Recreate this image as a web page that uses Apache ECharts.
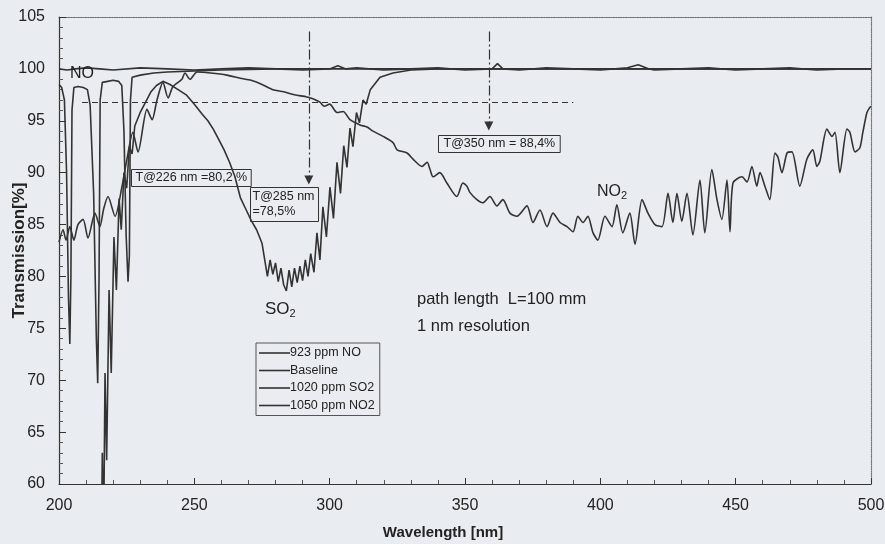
<!DOCTYPE html>
<html><head><meta charset="utf-8">
<script src="https://cdn.jsdelivr.net/npm/echarts@6/dist/echarts.min.js"></script>
<style>html,body{margin:0;padding:0;background:#e9ecf0;}#c{width:885px;height:544px;}</style>
</head><body><div id="c"></div>
<script>
// ---- data (wavelength nm, transmission %) ----
const baseX = [200,203,206,210,215,220,230,240,250,260,270,280,290,300,303,306,310,320,330,340,350,360,362,364,370,380,390,400,410,414,418,420,430,440,450,460,470,480,490,500];
const baseY = [100,99.9,100,100.1,100,99.9,100.1,100,99.9,100,100.1,100,99.9,100,100.3,100,100.1,99.9,100,100.1,99.9,100,100.5,100,99.9,100.1,100,99.9,100.1,100.4,100,99.9,100,100.1,99.9,100,100.1,99.9,100,100];

const noX = [200,201,202,202.8,203.5,204,204.4,204.8,205.5,207,209,210.5,211.5,212.8,213.8,214.3,214.8,215.2,216,218,220,222,223.2,224,224.8,225.5,226,226.4,227,230,235,240,250,260,280,300,350,400,450,500];
const noY = [98.5,98.2,97,90,78,73.5,80,96,98.2,98.3,98.2,98,96.5,88,74,69.7,80,97,98.7,98.8,98.9,98.8,98.4,94,84,79.5,82,97,99.2,99.4,99.6,99.7,99.8,99.9,100,100,100,100,100,100];

const so2X = [200,215.5,216,216.5,217,217.6,218.5,219.3,220.3,221.2,222.2,223,224,225,226,227,228,230,232,234,236,238.4,241,244,247,250,253,255,257,259,261,263,265,267,269,271,273,275,277,278,279,280,281,282,283,284,285,286,287,288,289,290,291,292,293,294.2,295.3,296.4,297.5,298.8,300.1,301.4,302.7,304,305.2,306.4,307.5,308.6,309.9,311,312.3,313.5,315,318.6,323.4,330,340,400,500];
const so2Y = [50,50,63,55,70.7,62.3,78.7,70.7,83.8,78.7,87.5,84.5,90,88.5,92.5,91.8,94.5,95.8,96.8,97.8,98.4,98.8,98.5,98.0,97.5,96.6,95.6,95.0,94.2,93.2,92.2,91.0,89.6,87.6,86.5,85.4,84.5,83.2,80.0,81.6,80.2,81.3,79.5,80.8,79.2,78.6,80.6,79.0,80.8,79.4,81.0,79.6,81.6,80.0,82.2,80.4,84.2,81.6,86.7,83.8,88.6,85.6,91.0,88.0,92.6,90.5,94.3,92.5,95.8,94.8,97.0,96.6,98.0,99.2,99.6,99.9,100,100,100];

const no2X = [200,201.5,202.6,204,205.5,207,208.9,210.7,213.3,215.1,216.5,218.1,220.7,223.3,225.1,227.3,229.2,232.5,234.4,236.2,238.4,240.3,242.1,245.4,246.5,248.4,251,256,262,267,271,275,279,283,287,291.6,294,296.4,298,300,302.7,305,307.5,311.2,313.8,316,319.7,323.4,324.9,328.6,330.8,334.1,336,337.1,338.2,340.7,343.3,347,349.2,350.7,351.8,354.4,356.6,359.2,361.8,364,366.6,369.2,372.9,375.1,377.7,380.3,382.5,385.1,387.7,389.9,391.7,393.6,395.4,397.3,399.1,401.7,404.3,406.1,408.3,410.9,412.8,415.4,417.6,420.2,422.8,425,426.8,428.3,430.1,432,434.2,436.8,438.6,441.2,443.1,444.9,446.8,447.9,449,452.3,454.2,456,457.8,459,460.8,462.6,464.5,465.6,467.1,469,470.8,473.7,476.3,478.5,480,481.1,483.7,485.6,486.7,488.5,491.1,492.2,494.1,495.9,497,498.5,499.6,500];
const no2Y = [83.3,84.5,83.5,84.8,83.5,85,85.5,83.7,86.1,84.8,86.5,87.7,85.8,88.7,91.3,93.9,92,96.1,95.1,97,98.7,97.2,98.3,99,99.6,99,99.7,99.6,99.4,99.1,98.9,98.5,98.0,97.8,97.5,97.3,97.1,96.8,96.4,96.6,95.8,95.9,95.1,94.6,94.4,94.0,93.5,92.9,92.2,91.9,91.3,90.6,91.0,90.3,89.6,90.0,89.0,87.7,89.0,88.7,88.1,87.4,87.1,87.7,86.8,87.4,86.1,85.8,86.8,85.2,86.4,84.8,86.1,85.2,84.8,84.3,85.8,85.2,85.8,84.2,83.5,85.8,84.8,86.9,84.2,86.1,83.1,87.4,86.1,85,84.8,88,85.2,88,85.3,88,84,89.3,84.2,90.3,87.4,85.5,89.3,84.3,89,89.6,89.1,90.6,88.7,90,88.7,87.4,91.9,91.5,90,91.9,92,88.7,91.3,92.2,90.6,91.1,94.2,93.5,93.9,90,94.2,93.9,92,92.4,93.9,95.8,96.3,96.4];

const seriesNames = ['923 ppm NO','Baseline','1020 ppm SO2','1050 ppm NO2'];
const xTicks = {min:200, max:500, step:50};
const yTicks = {min:60, max:105, step:5};

// annotation positions (data coords)
const refLevel = 96.8;
const refLineX = [208.5, 390];
const arrowX = [292.3, 358.8];
const arrowTopY = 103.6;
const arrowTipY = [89.3, 94.5];

const zip = (xs, ys) => xs.map((x, i) => [x, ys[i]]);
const LC = '#333';

const chart = echarts.init(document.getElementById('c'));
const lineSeries = (name, xs, ys, smooth) => ({
  name, type:'line', data: zip(xs, ys), symbol:'none', smooth: smooth || false,
  lineStyle:{color:LC, width:1.6}, itemStyle:{color:LC}, clip:true, z:3
});

chart.setOption({
  backgroundColor:'#e9ecf0',
  animation:false,
  grid:{left:59, right:14, top:17, bottom:60, containLabel:false, outerBoundsMode:'none'},
  legend:{
    data: seriesNames, orient:'vertical', left:256, top:343,
    icon:'rect', itemWidth:31, itemHeight:1.6, itemGap:3.5,
    padding:[3,5,3,3], borderColor:'#555', borderWidth:1,
    textStyle:{fontFamily:'Arial, Liberation Sans', fontSize:12.5, color:'#222', lineHeight:14, padding:[0,0,0,-5]},
    itemStyle:{color:LC}
  },
  xAxis:[{
    type:'value', min:xTicks.min, max:xTicks.max, interval:xTicks.step,
    name:'Wavelength [nm]', nameLocation:'middle', nameGap:41, nameMoveOverlap:false,
    nameTextStyle:{fontFamily:'Arial, Liberation Sans', fontSize:15, fontWeight:'bold', color:'#222', padding:[0,44,0,0]},
    axisLine:{lineStyle:{color:'#333', width:1.2}},
    axisTick:{inside:true, length:6, lineStyle:{color:'#333'}},
    minorTick:{show:true, splitNumber:5, length:4, lineStyle:{color:'#555'}},
    axisLabel:{fontFamily:'Arial, Liberation Sans', fontSize:16, color:'#222', margin:14},
    splitLine:{show:false}
  },{
    type:'value', position:'top', min:xTicks.min, max:xTicks.max,
    axisLine:{show:true, lineStyle:{color:'#666', type:'dotted', width:1.2}},
    axisTick:{show:false}, axisLabel:{show:false}, splitLine:{show:false}
  }],
  yAxis:[{
    type:'value', min:yTicks.min, max:yTicks.max, interval:yTicks.step,
    name:'Transmission[%]', nameLocation:'middle', nameGap:31, nameRotate:90, nameMoveOverlap:false,
    nameTextStyle:{fontFamily:'Arial, Liberation Sans', fontSize:17, fontWeight:'bold', color:'#222'},
    axisLine:{show:true, lineStyle:{color:'#333', width:1.2}},
    axisTick:{inside:true, length:7, lineStyle:{color:'#333'}},
    minorTick:{show:true, splitNumber:5, length:4, lineStyle:{color:'#555'}},
    axisLabel:{fontFamily:'Arial, Liberation Sans', fontSize:16, color:'#222', margin:14},
    splitLine:{show:false}
  },{
    type:'value', position:'right', min:yTicks.min, max:yTicks.max,
    axisLine:{show:true, lineStyle:{color:'#777', type:'dotted', width:1.2}},
    axisTick:{show:false}, axisLabel:{show:false}, splitLine:{show:false}
  }],
  series:[
    lineSeries(seriesNames[0], noX, noY),
    lineSeries(seriesNames[1], baseX, baseY),
    lineSeries(seriesNames[2], so2X, so2Y),
    lineSeries(seriesNames[3], no2X, no2Y, 0.25),
    {
      name:'annotations', type:'line', data:[], symbol:'none',
      markLine:{
        silent:true, animation:false, label:{show:false},
        data:[
          [{coord:[refLineX[0], refLevel], symbol:'none', lineStyle:{type:[6,4], color:'#333', width:1.2}},
           {coord:[refLineX[1], refLevel], symbol:'none'}],
          [{coord:[arrowX[0], arrowTopY], symbol:'none', lineStyle:{type:[10,3,2,3], color:'#333', width:1.2}},
           {coord:[arrowX[0], arrowTipY[0]], symbol:'triangle', symbolSize:[9,9], symbolRotate:180}],
          [{coord:[arrowX[1], arrowTopY], symbol:'none', lineStyle:{type:[10,3,2,3], color:'#333', width:1.2}},
           {coord:[arrowX[1], arrowTipY[1]], symbol:'triangle', symbolSize:[9,9], symbolRotate:180}]
        ]
      }
    }
  ],
  graphic:[
    {type:'text', left:70, top:66, z:10, style:{text:'NO', font:'16px Arial, Liberation Sans', fill:'#222'}},
    {type:'text', left:265, top:301, z:10, style:{text:'SO{s|2}', font:'17px Arial, Liberation Sans', fill:'#222',
      rich:{s:{fontSize:11, fontFamily:'Arial, Liberation Sans', verticalAlign:'bottom', padding:[8,0,0,0], fill:'#222'}}}},
    {type:'text', left:597, top:184, z:10, style:{text:'NO{s|2}', font:'16px Arial, Liberation Sans', fill:'#222',
      rich:{s:{fontSize:11, fontFamily:'Arial, Liberation Sans', verticalAlign:'bottom', padding:[8,0,0,0], fill:'#222'}}}},
    {type:'text', left:417, top:291, z:10, style:{text:'path length  L=100 mm', font:'16.5px Arial, Liberation Sans', fill:'#222'}},
    {type:'text', left:417, top:318, z:10, style:{text:'1 nm resolution', font:'16.5px Arial, Liberation Sans', fill:'#222'}},
    {type:'text', left:131, top:169, z:10, style:{text:'T@226 nm =80,2 %', font:'12.5px Arial, Liberation Sans', fill:'#222',
      padding:[2,4,2,4], borderColor:'#333', borderWidth:1}},
    {type:'text', left:250, top:187, z:10, style:{text:'T@285 nm\n=78,5%', font:'12.5px Arial, Liberation Sans', fill:'#222', lineHeight:15,
      padding:[2,4,2,2], borderColor:'#333', borderWidth:1}},
    {type:'text', left:438, top:135, z:10, style:{text:'T@350 nm = 88,4%', font:'12.5px Arial, Liberation Sans', fill:'#222',
      padding:[2,5,2,5], borderColor:'#333', borderWidth:1}}
  ]
});
</script></body></html>
